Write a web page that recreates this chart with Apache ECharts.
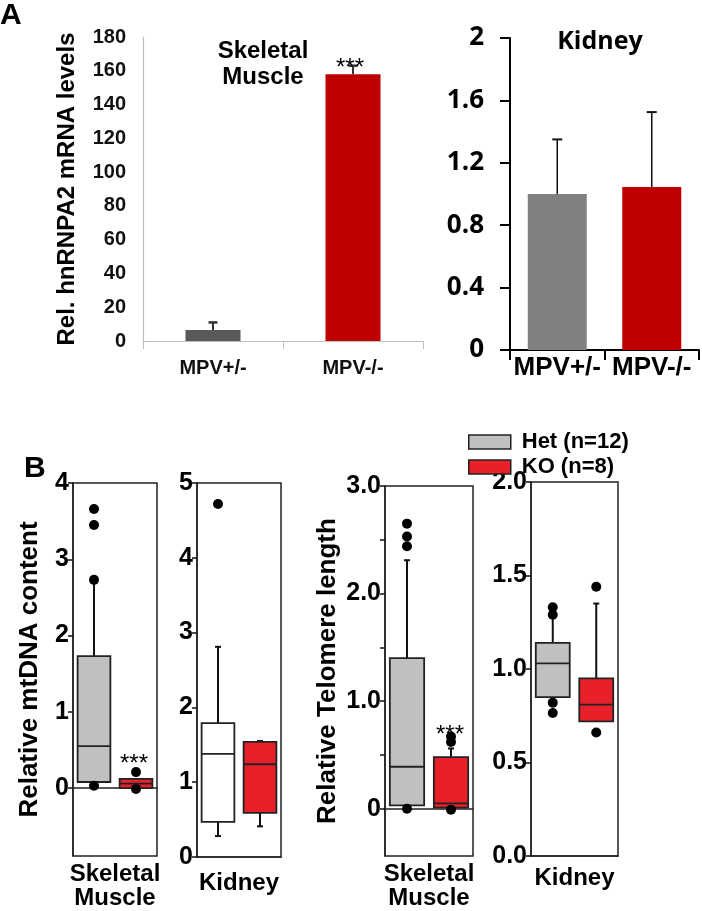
<!DOCTYPE html>
<html><head><meta charset="utf-8">
<script src="https://cdn.jsdelivr.net/npm/echarts@6/dist/echarts.min.js"></script>
<style>html,body{margin:0;padding:0;background:#fff}#c{width:702px;height:911px}</style>
</head><body><div id="c"></div>
<script>
// ---------- Panel A data ----------
const aCategories = ['MPV+/-', 'MPV-/-'];
const muscleMean = [6.5, 158];
const muscleErr = [4.5, 5];
const kidneyMean = [1.0, 1.045];
const kidneyErr = [0.35, 0.48];

// ---------- Panel B data : [lowWhisker, Q1, median, Q3, highWhisker] ----------
const groups = ['Het (n=12)', 'KO (n=8)'];
const mtMuscleHet = [0.08, 0.08, 0.55, 1.73, 2.73];
const mtMuscleKO = [0.0, 0.0, 0.06, 0.12, 0.12];
const mtMuscleHetOut = [3.66, 3.45, 2.73, 0.03];
const mtMuscleKOOut = [0.21, -0.01];
const mtKidneyHet = [0.28, 0.47, 1.38, 1.79, 2.81];
const mtKidneyKO = [0.41, 0.59, 1.24, 1.54, 1.55];
const mtKidneyHetOut = [4.72];
const mtKidneyKOOut = [];
const telMuscleHet = [0.03, 0.03, 0.39, 1.40, 2.31];
const telMuscleKO = [0.01, 0.01, 0.05, 0.48, 0.56];
const telMuscleHetOut = [2.65, 2.53, 2.44, 0.0];
const telMuscleKOOut = [0.67, 0.62, -0.01];
const telKidneyHet = [0.85, 0.85, 1.03, 1.14, 1.29];
const telKidneyKO = [0.72, 0.72, 0.81, 0.95, 1.35];
const telKidneyHetOut = [1.33, 1.29, 0.82, 0.765];
const telKidneyKOOut = [1.44, 0.66];

// tick values
const mtMuscleTicks = [0, 1, 2, 3, 4];
const telMuscleLabelTicks = [0, 1, 2, 3];
const telMuscleMinorTicks = [0, 0.5, 1, 1.5, 2, 2.5, 3];

const FONT = "'Liberation Sans', Arial, sans-serif";
const chart = echarts.init(document.getElementById('c'), null, {renderer: 'canvas'});

function errRender(capW, lw, color) {
  return function (params, api) {
    const c = api.value(0), m = api.value(1), e = api.value(2);
    const p0 = api.coord([c, m]), p1 = api.coord([c, m + e]);
    return {type: 'group', children: [
      {type: 'line', shape: {x1: p0[0], y1: p0[1], x2: p1[0], y2: p1[1]}, style: {stroke: color, lineWidth: lw}},
      {type: 'line', shape: {x1: p1[0] - capW / 2, y1: p1[1], x2: p1[0] + capW / 2, y2: p1[1]}, style: {stroke: color, lineWidth: lw + 0.5}}
    ]};
  };
}
function boxRender(fill) {
  return function (params, api) {
    const c = api.value(0);
    const lo = api.value(1), q1 = api.value(2), md = api.value(3), q3 = api.value(4), hi = api.value(5);
    const bw = api.size([1, 0])[0] * 0.78;
    const cx = api.coord([c, md])[0];
    const y = v => api.coord([c, v])[1];
    const ch = [];
    if (hi > q3) {
      ch.push({type: 'line', shape: {x1: cx, y1: y(q3), x2: cx, y2: y(hi)}, style: {stroke: '#111', lineWidth: 2}});
      ch.push({type: 'line', shape: {x1: cx - 3, y1: y(hi), x2: cx + 3, y2: y(hi)}, style: {stroke: '#111', lineWidth: 2}});
    }
    if (lo < q1) {
      ch.push({type: 'line', shape: {x1: cx, y1: y(q1), x2: cx, y2: y(lo)}, style: {stroke: '#111', lineWidth: 2}});
      ch.push({type: 'line', shape: {x1: cx - 3, y1: y(lo), x2: cx + 3, y2: y(lo)}, style: {stroke: '#111', lineWidth: 2}});
    }
    ch.push({type: 'rect', shape: {x: cx - bw / 2, y: y(q3), width: bw, height: y(q1) - y(q3)}, style: {fill: fill, stroke: '#222', lineWidth: 1.8}});
    ch.push({type: 'line', shape: {x1: cx - bw / 2, y1: y(md), x2: cx + bw / 2, y2: y(md)}, style: {stroke: '#222', lineWidth: 1.8}});
    return {type: 'group', children: ch};
  };
}

const GRAY = '#c0c0c0', RED = '#e8202a';
const gridsB = [
  {left: 73, top: 483, width: 84, height: 374},
  {left: 197, top: 483, width: 84, height: 374},
  {left: 385, top: 486, width: 88, height: 374},
  {left: 531, top: 482, width: 87, height: 374}
];
const grids = [
  {left: 143, top: 37, width: 280, height: 304, containLabel: false},
  {left: 510, top: 38, width: 189, height: 312, containLabel: false}
].concat(gridsB.map(g => Object.assign({show: true, borderColor: '#222', borderWidth: 1.5, backgroundColor: 'transparent', containLabel: false}, g)));

const bTick = {show: true, length: 5, lineStyle: {color: '#111', width: 1.5}};
const bLine = {show: true, lineStyle: {color: '#222', width: 1.5}};
const bLabel = {fontSize: 25, fontWeight: 'bold', fontFamily: FONT, color: '#000', margin: 4};
const yNameStyle = {fontSize: 26, fontWeight: 'bold', fontFamily: FONT, color: '#000'};
const xNameStyle = {fontSize: 24, fontWeight: 'bold', fontFamily: FONT, color: '#000', lineHeight: 24};

function bX(idx, name, gap) {
  return {type: 'category', gridIndex: idx, data: groups, boundaryGap: true,
    axisLabel: {show: false}, axisTick: {show: false}, axisLine: bLine,
    name: name, nameLocation: 'middle', nameGap: gap, nameTextStyle: Object.assign({verticalAlign: 'top'}, xNameStyle)};
}

const xAxes = [
  {type: 'category', gridIndex: 0, data: aCategories,
    axisLine: {show: true, lineStyle: {color: '#bfbfbf', width: 1.2}},
    axisTick: {show: true, length: 8, lineStyle: {color: '#bfbfbf'}},
    axisLabel: {interval: 0, fontSize: 20, fontWeight: 'bold', fontFamily: FONT, color: '#111', margin: 17}},
  {type: 'category', gridIndex: 1, data: aCategories,
    axisLine: {show: true, lineStyle: {color: '#000', width: 2}},
    axisTick: {show: true, length: 10, lineStyle: {color: '#000', width: 2}},
    axisLabel: {interval: 0, hideOverlap: false, fontSize: 26, fontWeight: 'bold', fontFamily: FONT, color: '#000', margin: 5}},
  bX(2, 'Skeletal\nMuscle', 6),
  bX(3, 'Kidney', 14),
  bX(4, 'Skeletal\nMuscle', 6),
  bX(5, 'Kidney', 10)
];

const yAxes = [
  {type: 'value', gridIndex: 0, min: 0, max: 180, interval: 20, splitLine: {show: false},
    axisLine: {show: true, lineStyle: {color: '#bfbfbf', width: 1.2}}, axisTick: {show: false},
    axisLabel: {fontSize: 20, fontWeight: 'bold', fontFamily: FONT, color: '#111', margin: 17},
    name: 'Rel. hnRNPA2 mRNA levels', nameLocation: 'middle', nameGap: 64,
    nameTextStyle: {fontSize: 24, fontWeight: 'bold', fontFamily: FONT, color: '#000'}},
  {type: 'value', gridIndex: 1, min: 0, max: 2, interval: 0.4, splitLine: {show: false},
    axisLine: {show: true, lineStyle: {color: '#000', width: 2}},
    axisTick: {show: true, length: 10, lineStyle: {color: '#000', width: 2}},
    axisLabel: {fontSize: 26, fontWeight: 'bold', fontFamily: "'Open Sans', sans-serif", color: '#000', margin: 26}},
  {type: 'value', gridIndex: 2, min: -0.89, max: 4, splitLine: {show: false},
    axisLine: bLine, axisTick: Object.assign({customValues: mtMuscleTicks}, bTick),
    axisLabel: Object.assign({customValues: mtMuscleTicks}, bLabel),
    name: 'Relative mtDNA content', nameLocation: 'middle', nameGap: 30, nameTextStyle: yNameStyle},
  {type: 'value', gridIndex: 3, min: 0, max: 5, interval: 1, splitLine: {show: false},
    axisLine: bLine, axisTick: bTick, axisLabel: bLabel},
  {type: 'value', gridIndex: 4, min: -0.44, max: 3, splitLine: {show: false},
    axisLine: bLine, axisTick: Object.assign({customValues: telMuscleMinorTicks}, bTick),
    axisLabel: Object.assign({customValues: telMuscleLabelTicks, formatter: v => v === 0 ? '0' : v.toFixed(1)}, bLabel),
    name: 'Relative Telomere length', nameLocation: 'middle', nameGap: 44, nameTextStyle: yNameStyle},
  {type: 'value', gridIndex: 5, min: 0, max: 2, interval: 0.5, splitLine: {show: false},
    axisLine: bLine, axisTick: bTick,
    axisLabel: Object.assign({formatter: v => v.toFixed(1)}, bLabel)}
];

const series = [];
// Panel A bars
const aLeftColors = ['#595959', '#c00000'];
const aRightColors = ['#808080', '#c00000'];
series.push({type: 'bar', xAxisIndex: 0, yAxisIndex: 0, barWidth: 55,
  data: muscleMean.map((v, i) => ({value: v, itemStyle: {color: aLeftColors[i]}}))});
series.push({type: 'custom', xAxisIndex: 0, yAxisIndex: 0, renderItem: errRender(9, 2, '#333'),
  encode: {x: 0, y: [1, 2]}, data: muscleMean.map((v, i) => [i, v, muscleErr[i]]), z: 5});
series.push({type: 'bar', xAxisIndex: 1, yAxisIndex: 1, barWidth: 59,
  data: kidneyMean.map((v, i) => ({value: v, itemStyle: {color: aRightColors[i]}}))});
series.push({type: 'custom', xAxisIndex: 1, yAxisIndex: 1, renderItem: errRender(10, 1.5, '#111'),
  encode: {x: 0, y: [1, 2]}, data: kidneyMean.map((v, i) => [i, v, kidneyErr[i]]), z: 5});

// Panel B boxes
const panels = [
  {ax: 2, het: mtMuscleHet, ko: mtMuscleKO, hetOut: mtMuscleHetOut, koOut: mtMuscleKOOut, hetFill: GRAY},
  {ax: 3, het: mtKidneyHet, ko: mtKidneyKO, hetOut: mtKidneyHetOut, koOut: mtKidneyKOOut, hetFill: '#ffffff'},
  {ax: 4, het: telMuscleHet, ko: telMuscleKO, hetOut: telMuscleHetOut, koOut: telMuscleKOOut, hetFill: GRAY},
  {ax: 5, het: telKidneyHet, ko: telKidneyKO, hetOut: telKidneyHetOut, koOut: telKidneyKOOut, hetFill: GRAY}
];
panels.forEach(p => {
  series.push({type: 'custom', name: groups[0], xAxisIndex: p.ax, yAxisIndex: p.ax,
    itemStyle: {color: GRAY}, renderItem: boxRender(p.hetFill), encode: {x: 0, y: [1, 2, 3, 4, 5]},
    data: [[0].concat(p.het)], z: 3});
  series.push({type: 'custom', name: groups[1], xAxisIndex: p.ax, yAxisIndex: p.ax,
    itemStyle: {color: RED}, renderItem: boxRender(RED), encode: {x: 0, y: [1, 2, 3, 4, 5]},
    data: [[1].concat(p.ko)], z: 3});
  series.push({type: 'scatter', xAxisIndex: p.ax, yAxisIndex: p.ax, symbolSize: 10,
    itemStyle: {color: '#000', opacity: 1}, z: 6,
    data: p.hetOut.map(v => [0, v]).concat(p.koOut.map(v => [1, v]))});
});

const txt = (x, y, text, size, weight, align, family) => ({type: 'text', x: x, y: y, z: 100,
  style: {text: text, fontSize: size, fontWeight: weight, fontFamily: family || FONT, fill: '#000',
    align: align || 'center', verticalAlign: 'middle', lineHeight: size + 2}});

chart.setOption({
  animation: false,
  backgroundColor: '#fff',
  grid: grids,
  xAxis: xAxes,
  yAxis: yAxes,
  series: series,
  legend: {
    left: 463, top: 426, orient: 'vertical', itemWidth: 42, itemHeight: 14, itemGap: 3,
    icon: 'rect', selectedMode: false,
    textStyle: {fontSize: 22, fontWeight: 'bold', fontFamily: FONT, color: '#000', padding: [0, 0, 0, 6]},
    data: [
      {name: groups[0], itemStyle: {color: GRAY, borderColor: '#222', borderWidth: 1.5}},
      {name: groups[1], itemStyle: {color: RED, borderColor: '#222', borderWidth: 1.5}}
    ]
  },
  graphic: [
    txt(0, 16, 'A', 30, 'bold', 'left'),
    txt(24, 469, 'B', 30, 'bold', 'left'),
    txt(263, 64, 'Skeletal\nMuscle', 24, 'bold'),
    txt(350, 68, '***', 24, 'normal'),
    txt(600, 42, 'Kidney', 25, 'bold', 'center', "'Open Sans', sans-serif"),
    txt(134, 764, '***', 24, 'normal'),
    txt(450, 735, '***', 24, 'normal')
  ]
});
</script></body></html>
